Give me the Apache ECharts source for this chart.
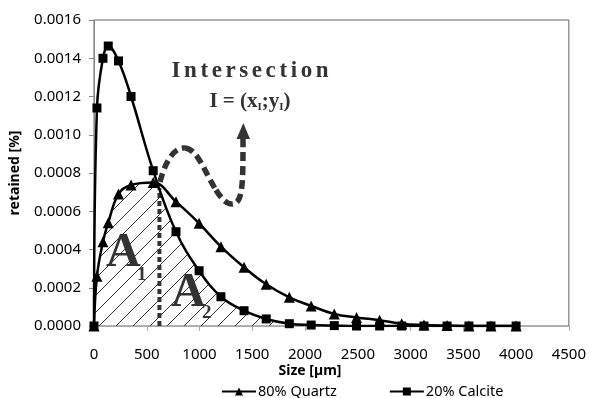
<!DOCTYPE html>
<html><head><meta charset="utf-8">
<script src="https://cdn.jsdelivr.net/npm/echarts@6/dist/echarts.min.js"></script>
<style>html,body{margin:0;padding:0;background:#fff}#c{width:589px;height:398px}</style>
</head><body><div id="c"></div>
<script>
// ---- data ----
const sizes = [0, 28, 85, 135, 232, 351, 561, 777, 996, 1203, 1422, 1632, 1851, 2058, 2277, 2488, 2707, 2916, 3127, 3346, 3553, 3762, 4000];
const quartz = [0, 0.00026, 0.00044, 0.00054, 0.00069, 0.000737, 0.00075, 0.00065, 0.000537, 0.000415, 0.000307, 0.000218, 0.00015, 0.000105, 0.000063, 0.000045, 0.00003, 0.000012, 0.000005, 0.000002, 0, 0, 0];
const calcite = [0, 0.00114, 0.0014, 0.001464, 0.001386, 0.0012, 0.000812, 0.000493, 0.000289, 0.000153, 0.00008, 0.000037, 0.000012, 0.000005, 0.000002, 0, 0, 0, 0, 0, 0, 0, 0];
const intersection = [620, 0.00072];
const seriesNames = ['80% Quartz', '20% Calcite'];
const xTicks = {min: 0, max: 4500, step: 500};
const yTicks = {min: 0, max: 0.0016, step: 0.0002};

// ---- build ----
const qPairs = sizes.map((x, i) => [x, quartz[i]]);
const cPairs = sizes.map((x, i) => [x, calcite[i]]);
const a1 = qPairs.filter(p => p[0] < intersection[0]).concat([intersection]);
const a2 = [intersection].concat(cPairs.filter(p => p[0] > intersection[0]));

const pc = document.createElement('canvas');
pc.width = 17; pc.height = 17;
const g = pc.getContext('2d');
g.strokeStyle = '#333'; g.lineWidth = 1;
g.beginPath();
g.moveTo(0, 17); g.lineTo(17, 0);
g.moveTo(-2, 2); g.lineTo(2, -2);
g.moveTo(15, 19); g.lineTo(19, 15);
g.stroke();
const hatch = {image: pc, repeat: 'repeat'};

const SANS = '"Noto Sans", sans-serif';
const SERIF = '"Liberation Serif", serif';

function spacedText(str, cx, cy, font, spacing, color) {
  const m = document.createElement('canvas').getContext('2d');
  m.font = font;
  const ws = [...str].map(ch => m.measureText(ch).width);
  const total = ws.reduce((a, b) => a + b, 0) + spacing * (ws.length - 1);
  let x = cx - total / 2;
  const els = [];
  [...str].forEach((ch, i) => {
    els.push({type: 'text', x: x, y: cy, style: {text: ch, font: font, fill: color, verticalAlign: 'middle'}});
    x += ws[i] + spacing;
  });
  return els;
}

function bez(p) {
  return {type: 'bezierCurve', shape: {x1: p[0], y1: p[1], cpx1: p[2], cpy1: p[3], cpx2: p[4], cpy2: p[5], x2: p[6], y2: p[7]},
    style: {stroke: '#333', lineWidth: 5.5, lineDash: [9, 5], fill: null}, z: 10};
}

const chart = echarts.init(document.getElementById('c'), null, {renderer: 'canvas'});
const lineBase = {type: 'line', smooth: 0.4, symbolSize: 10, lineStyle: {color: '#000', width: 2.5}, itemStyle: {color: '#000'}, z: 3};

const graphics = [].concat(
  spacedText('Intersection', 250, 71, 'bold 23px ' + SERIF, 3.6, '#333'),
  [
    {type: 'text', x: 250, y: 102, style: {
      text: 'I = (x{s|I};y{s|I})', font: 'bold 21px ' + SERIF, fill: '#333', align: 'center', verticalAlign: 'middle',
      rich: {s: {font: 'bold 11px ' + SERIF, fill: '#333', padding: [11, 0, 0, 0]}}
    }},
    {type: 'text', x: 106, y: 254, style: {text: 'A', font: 'bold 48px ' + SERIF, fill: '#333', verticalAlign: 'middle'}},
    {type: 'text', x: 137, y: 275, style: {text: '1', font: 'bold 19px ' + SERIF, fill: '#333', verticalAlign: 'middle'}},
    {type: 'text', x: 171, y: 294, style: {text: 'A', font: 'bold 48px ' + SERIF, fill: '#333', verticalAlign: 'middle'}},
    {type: 'text', x: 202, y: 313, style: {text: '2', font: 'bold 19px ' + SERIF, fill: '#333', verticalAlign: 'middle'}},
    bez([160, 182, 166, 158, 176, 147, 185, 148]),
    bez([185, 148, 198, 149, 206, 175, 216, 190]),
    bez([216, 190, 224, 203, 231, 207, 237, 202]),
    bez([237, 202, 243, 196, 243, 175, 243, 139]),
    {type: 'polygon', shape: {points: [[236.5, 139], [250, 139], [243.3, 123]]}, style: {fill: '#333'}, z: 10},
    {type: 'text', x: 310, y: 371, style: {text: 'Size [µm]', font: 'bold 14px ' + SANS, fill: '#000', align: 'center', verticalAlign: 'middle'}}
  ]
);

chart.setOption({
  animation: false,
  grid: {left: 93, right: 18, top: 20, bottom: 72, show: true, borderColor: '#666', borderWidth: 1, backgroundColor: 'transparent'},
  legend: {
    data: seriesNames, left: 216, top: 379, itemWidth: 34, itemHeight: 10, itemGap: 52,
    textStyle: {fontFamily: SANS, fontSize: 14.5, color: '#000', padding: [0, 0, 0, -3]}
  },
  xAxis: {
    type: 'value', min: xTicks.min, max: xTicks.max, interval: xTicks.step,
    axisLine: {show: true, lineStyle: {color: '#aaa'}},
    axisTick: {show: true, length: 5, lineStyle: {color: '#aaa'}},
    splitLine: {show: false},
    axisLabel: {fontFamily: SANS, fontSize: 15, color: '#000', margin: 21, formatter: v => String(v)}
  },
  yAxis: {
    type: 'value', min: yTicks.min, max: yTicks.max, interval: yTicks.step,
    name: 'retained [%]', nameLocation: 'middle', nameRotate: 90, nameGap: 72,
    nameTextStyle: {fontFamily: SANS, fontSize: 14, fontWeight: 'bold', color: '#000'},
    axisLine: {show: true, lineStyle: {color: '#888'}},
    axisTick: {show: true, length: 5, lineStyle: {color: '#888'}},
    splitLine: {show: false},
    axisLabel: {fontFamily: SANS, fontSize: 15, color: '#000', margin: 13, formatter: v => v.toFixed(4)}
  },
  series: [
    {type: 'line', name: 'A1', data: a1, smooth: 0.4, symbol: 'none', lineStyle: {width: 0}, areaStyle: {color: hatch, opacity: 1}, silent: true, z: 1},
    {type: 'line', name: 'A2', data: a2, smooth: 0.4, symbol: 'none', lineStyle: {width: 0}, areaStyle: {color: hatch, opacity: 1}, silent: true, z: 1},
    {type: 'line', name: 'xI', data: [[intersection[0], 0], intersection], symbol: 'none', lineStyle: {color: '#333', width: 4, type: [5, 3]}, silent: true, z: 2},
    Object.assign({}, lineBase, {name: seriesNames[0], data: qPairs, symbol: 'triangle', symbolSize: 11}),
    Object.assign({}, lineBase, {name: seriesNames[1], data: cPairs, symbol: 'rect', symbolSize: 9, z: 4})
  ],
  graphic: graphics
});
</script></body></html>
